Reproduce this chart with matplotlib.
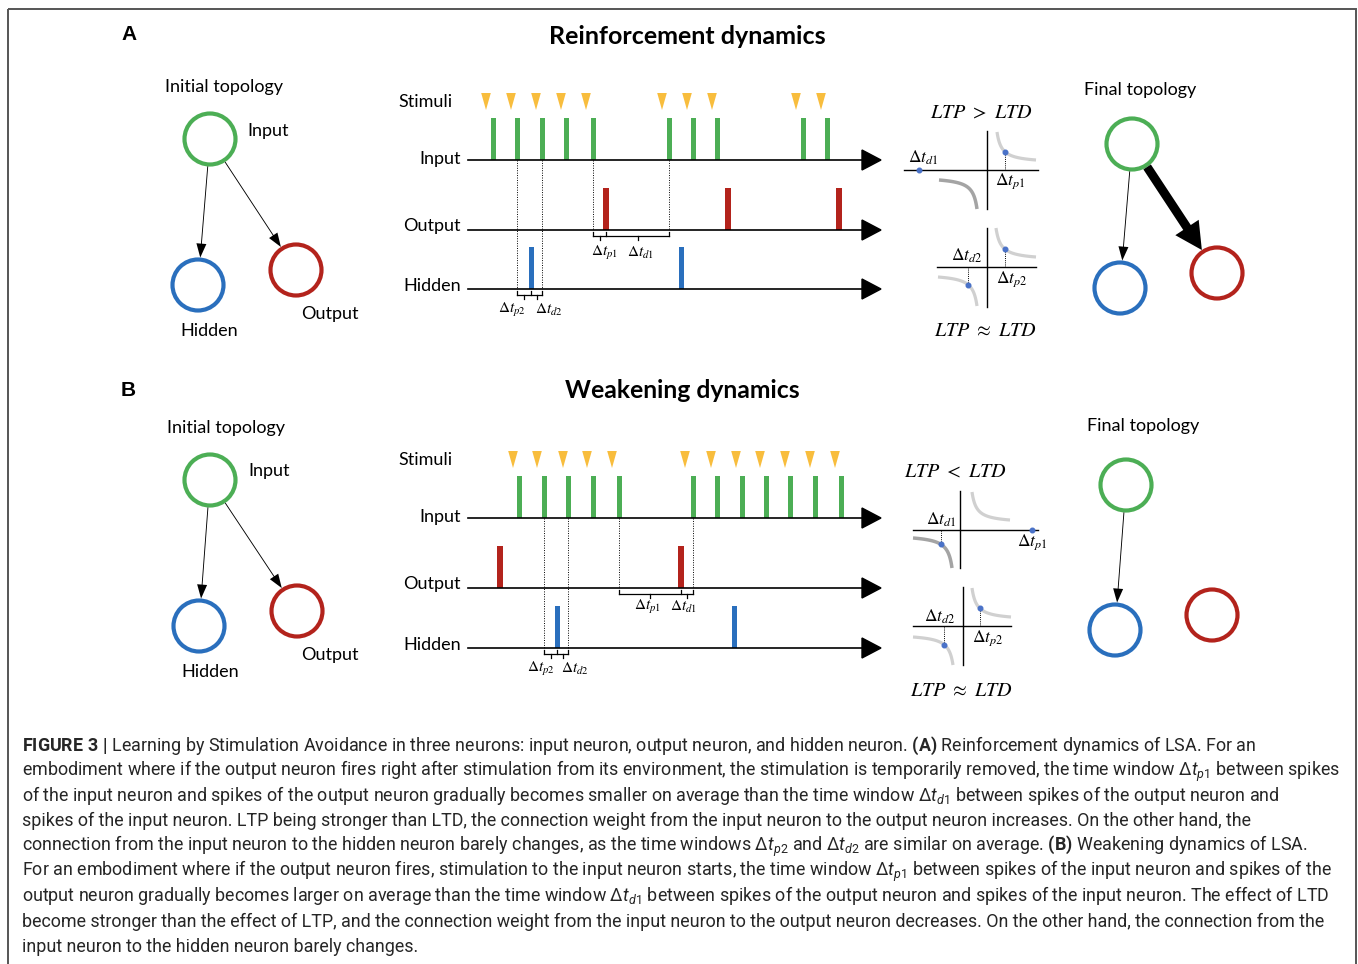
import numpy as np
import matplotlib.pyplot as plt
from matplotlib.patches import Circle, Polygon, Rectangle

plt.rcParams['font.family'] = ['Lato', 'DejaVu Sans']
plt.rcParams['mathtext.fontset'] = 'custom'
plt.rcParams['mathtext.rm'] = 'Roboto'
plt.rcParams['mathtext.it'] = 'Roboto:italic'
plt.rcParams['mathtext.bf'] = 'Roboto:bold'

GREEN = '#4cae55'
RED = '#b3231c'
BLUE = '#2a6fbd'
ORANGE = '#f8bd3d'
LIGHT = '#d0d0d0'
DARK = '#a4a4a4'
DOT = '#4a72c8'

# spike trains, x position along the time axis (px)
A_stimuli = [486, 511, 536, 561, 586, 662, 687, 712, 796, 821]
A_input = [493, 517, 542, 566, 593, 669, 693, 717, 803, 827]
A_output = [606, 728, 839]
A_hidden = [531, 681]

B_stimuli = [513, 537, 563, 587, 612, 685, 711, 736, 760, 785, 810, 835]
B_input = [519, 544, 568, 593, 619, 693, 717, 742, 766, 790, 815, 841]
B_output = [500, 681]
B_hidden = [557, 734]

# time windows marked under the axes: edges of the two windows
A_win_out = [593, 606, 669]
A_win_hid = [517, 531, 542]
B_win_out = [619, 681, 693]
B_win_hid = [544, 557, 568]

caption = [
    r"$\mathbf{FIGURE\ 3\ |}$ Learning by Stimulation Avoidance in three neurons: input neuron, output neuron, and hidden neuron. $\mathbf{(A)}$ Reinforcement dynamics of LSA. For an",
    r"embodiment where if the output neuron fires right after stimulation from its environment, the stimulation is temporarily removed, the time window $\Delta t_{p1}$ between spikes",
    r"of the input neuron and spikes of the output neuron gradually becomes smaller on average than the time window $\Delta t_{d1}$ between spikes of the output neuron and",
    r"spikes of the input neuron. LTP being stronger than LTD, the connection weight from the input neuron to the output neuron increases. On the other hand, the",
    r"connection from the input neuron to the hidden neuron barely changes, as the time windows $\Delta t_{p2}$ and $\Delta t_{d2}$ are similar on average. $\mathbf{(B)}$ Weakening dynamics of LSA.",
    r"For an embodiment where if the output neuron fires, stimulation to the input neuron starts, the time window $\Delta t_{p1}$ between spikes of the input neuron and spikes of the",
    r"output neuron gradually becomes larger on average than the time window $\Delta t_{d1}$ between spikes of the output neuron and spikes of the input neuron. The effect of LTD",
    r"become stronger than the effect of LTP, and the connection weight from the input neuron to the output neuron decreases. On the other hand, the connection from the",
    r"input neuron to the hidden neuron barely changes.",
]

fig = plt.figure(figsize=(13.58, 9.64), dpi=100)
ax = fig.add_axes([0, 0, 1, 1])


def timeline(rows, stimuli, inp, out, hid, win_out, win_hid, labels):
    yi, yo, yh = rows
    for y, name, dy in zip(rows, ['Input', 'Output', 'Hidden'], [-1, -4, -3]):
        ax.plot([468, 866], [y, y], color='k', lw=1.2)
        ax.add_patch(Polygon([[862, y - 10], [881, y], [862, y + 10]], color='k'))
        ax.text(461, y + dy, name, ha='right', va='center', fontsize=13)
    ax.text(398, yi - 58, 'Stimuli', ha='left', va='center', fontsize=13)
    for s in stimuli:
        ax.add_patch(Polygon([[s - 4.8, yi - 67], [s + 4.8, yi - 67], [s, yi - 50]],
                             color=ORANGE, lw=0))
    ax.bar(inp, -42, bottom=yi, width=5, color=GREEN)
    ax.bar(out, -42, bottom=yo, width=5.5, color=RED)
    ax.bar(hid, -42, bottom=yh, width=5, color=BLUE)
    for edges, y0 in [(win_out, yo), (win_hid, yh)]:
        # dotted drop lines from the input spikes
        for e in (edges[0], edges[2]):
            ax.plot([e, e], [yi, y0], ls=(0, (1, 1.5)), color='k', lw=0.7)
        for e in edges:
            ax.plot([e, e], [y0 + 1.5, y0 + 6], color='k', lw=0.9)
        ax.plot([edges[0], edges[2]], [y0 + 6, y0 + 6], color='k', lw=0.9)
        for a, b in zip(edges[:-1], edges[1:]):
            m = (a + b) / 2
            ax.plot([m, m], [y0 + 6, y0 + 10], color='k', lw=0.9)
    for (lx, ly, s) in labels:
        ax.text(lx, ly, s, ha='center', va='center', fontsize=11, math_fontfamily='stix')


def curve(S, F, c=0.12):
    u = np.linspace(0, 1, 80)
    v = (1 / (u + c) - 1 / (1 + c)) / (1 / c - 1 / (1 + c))
    return S[0] + u * (F[0] - S[0]), F[1] + v * (S[1] - F[1])


def on_curve(x, cx, cy):
    o = np.argsort(cx)
    return np.interp(x, cx[o], cy[o])


def stdp(origin, xspan, yspan, ltp, ltd, ltd_col, dots, labels):
    ox, oy = origin
    ax.plot(xspan, [oy, oy], color='k', lw=1.0)
    ax.plot([ox, ox], yspan, color='k', lw=1.0)
    px, py = curve(*ltp)
    dx, dy = curve(*ltd)
    ax.plot(px, py, color=LIGHT, lw=2.3, solid_capstyle='butt')
    ax.plot(dx, dy, color=ltd_col, lw=2.5 if ltd_col == DARK else 2.3, solid_capstyle='butt')
    for kind, x in dots:
        if kind == 'axis':
            y = oy
        else:
            cx, cy = (px, py) if kind == 'ltp' else (dx, dy)
            y = on_curve(x, cx, cy)
            ax.plot([x, x], [y, oy], ls=(0, (1, 1.2)), color='k', lw=0.7)
        ax.plot(x, y, 'o', ms=3.3, color=DOT, zorder=5)
    for lx, ly, s in labels:
        ax.text(lx, ly, s, ha='center', va='center', fontsize=12.5, math_fontfamily='stix')


def topology(title, tpos, green, blue, red, strong, labels):
    ax.text(*tpos, title, ha='center', va='center', fontsize=13)
    r = 25.5
    g = np.array(green, float)
    for c, col in [(green, GREEN), (blue, BLUE), (red, RED)]:
        ax.add_patch(Circle(c, r, fill=False, ec=col, lw=3.0))
    for target, kind in [(blue, 'thin'), (red, strong)]:
        if kind is None:
            continue
        t = np.array(target, float)
        d = (t - g) / np.linalg.norm(t - g)
        a = g + d * (r + 2)
        b = t - d * (r + 2)
        if kind == 'thin':
            ax.arrow(a[0], a[1], *(b - a), width=0.9, head_width=10, head_length=14,
                     length_includes_head=True, color='k', lw=0)
        else:
            ax.arrow(a[0], a[1], *(b - a), width=9, head_width=28, head_length=27,
                     length_includes_head=True, color='k', lw=0)
    for x, y, s, ha in labels:
        ax.text(x, y, s, ha=ha, va='center', fontsize=13)


# frame
ax.add_patch(Rectangle((8, 9), 1348, 1000, fill=False, ec='#555555', lw=1.4))

# panel letters and titles
ax.text(121, 35, 'A', fontsize=15, weight='bold', family='Liberation Sans', va='center')
ax.text(121, 390, 'B', fontsize=15, weight='bold', family='Liberation Sans', va='center')
ax.text(687, 37, 'Reinforcement dynamics', ha='center', va='center', fontsize=18, weight='bold')
ax.text(682, 391, 'Weakening dynamics', ha='center', va='center', fontsize=17.8, weight='bold')

# topologies
topology('Initial topology', (224, 87), (210, 139), (198, 285), (296, 270), 'thin',
         [(247, 131, 'Input', 'left'), (209, 331, 'Hidden', 'center'), (330, 314, 'Output', 'center')])
topology('Initial topology', (226, 428), (210, 480), (199, 626), (297, 611), 'thin',
         [(248, 471, 'Input', 'left'), (210, 672, 'Hidden', 'center'), (330, 655, 'Output', 'center')])
topology('Final topology', (1140, 90), (1132, 144), (1120, 288), (1217, 273), 'thick', [])
topology('Final topology', (1143, 426), (1126, 485), (1115, 630), (1212, 615), None, [])

# spike timelines
timeline([160, 230, 289], A_stimuli, A_input, A_output, A_hidden, A_win_out, A_win_hid,
         [(604, 253, r'$\Delta t_{p1}$'), (640, 253, r'$\Delta t_{d1}$'),
          (512, 310, r'$\Delta t_{p2}$'), (549, 310, r'$\Delta t_{d2}$')])
timeline([518, 588, 648], B_stimuli, B_input, B_output, B_hidden, B_win_out, B_win_hid,
         [(647, 607, r'$\Delta t_{p1}$'), (683, 607, r'$\Delta t_{d1}$'),
          (541, 669, r'$\Delta t_{p2}$'), (575, 669, r'$\Delta t_{d2}$')])

# STDP sketches
ax.text(981, 112, r'$LTP\ >\ LTD$', ha='center', va='center', fontsize=14.5, math_fontfamily='stix')
stdp((987, 170), (904, 1038), (131, 209), ((997, 132), (1036, 160)), ((977, 209), (939, 180)), DARK,
     [('axis', 919), ('ltp', 1005)],
     [(923, 158, r'$\Delta t_{d1}$'), (1010, 181, r'$\Delta t_{p1}$')])
stdp((987, 267), (937, 1036), (228, 307), ((996, 228), (1036, 257)), ((977, 306), (938, 277)), LIGHT,
     [('ltp', 1005), ('ltd', 968)],
     [(967, 256, r'$\Delta t_{d2}$'), (1012, 279, r'$\Delta t_{p2}$')])
ax.text(985, 331, r'$LTP\ \approx\ LTD$', ha='center', va='center', fontsize=14.5, math_fontfamily='stix')

ax.text(955, 471, r'$LTP\ <\ LTD$', ha='center', va='center', fontsize=14.5, math_fontfamily='stix')
stdp((960, 530), (913, 1038), (491, 568), ((972, 492), (1010, 520)), ((952, 568), (913, 538)), DARK,
     [('ltd', 941), ('axis', 1032)],
     [(941, 520, r'$\Delta t_{d1}$'), (1032, 542, r'$\Delta t_{p1}$')])
stdp((963, 626), (913, 1011), (587, 665), ((972, 588), (1011, 617)), ((953, 665), (913, 637)), LIGHT,
     [('ltp', 980), ('ltd', 944)],
     [(940, 617, r'$\Delta t_{d2}$'), (988, 638, r'$\Delta t_{p2}$')])
ax.text(961, 690, r'$LTP\ \approx\ LTD$', ha='center', va='center', fontsize=14.5, math_fontfamily='stix')

# caption, size fitted so that the second line spans the text width
texts = []
for i, line in enumerate(caption):
    texts.append(ax.text(22, 750.5 + 25.15 * i, line, ha='left', va='baseline', fontsize=13,
                         family='Roboto', color='#262626', math_fontfamily='custom'))
ax.set_xlim(0, 1358)
ax.set_ylim(964, 0)
ax.axis('off')
renderer = fig.canvas.get_renderer()
w = texts[1].get_window_extent(renderer).width
for t in texts:
    t.set_fontsize(13 * 1313 / w)

fig.savefig('out.png', dpi=100)
